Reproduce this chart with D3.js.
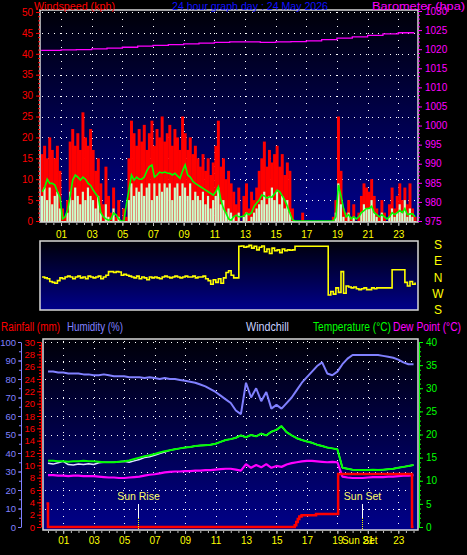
<!DOCTYPE html>
<html><head><meta charset="utf-8">
<script src="https://cdn.jsdelivr.net/npm/d3@7/dist/d3.min.js"></script>
<style>
body{margin:0;background:#000;}
svg{display:block;}
text{font-family:"Liberation Sans",Arial,sans-serif;}
</style>
</head><body>
<svg id="c" width="467" height="555"></svg>
<script>
// ---------- DATA ----------
// Top chart: 10-minute samples starting 23:40 of the previous day
const topStart = -1/3, topStep = 1/6;
const gust = [16,18,
 15,20,17,15,18,12,
 3,1,5,19,22,18,
 21,17,26,20,18,22,
 17,12,15,9,4,13,
 6,2,8,1,5,0,
 3,1,15,24,21,18,
 22,19,23,17,21,24,
 18,22,20,25,19,21,
 23,18,22,20,17,25,
 21,17,20,16,18,15,
 13,16,12,15,11,14,
 18,24,13,15,10,12,
 9,7,4,8,0,6,
 9,3,7,5,8,12,
 15,19,13,17,14,16,
 18,13,16,11,14,12,
 3,0,0,0,2,0,
 0,0,0,0,0,0,
 0,0,0,0,1,5,
 25,12,3,2,5,1,
 4,0,2,6,9,8,
 7,10,6,3,1,5,
 2,0,4,8,3,6,
 9,5,8,4,9,3,
 1];
const wind = [6,8,
 5,8,4,6,7,3,
 0,0,2,7,5,8,
 6,4,7,5,8,6,
 5,3,6,2,0,4,
 1,0,3,0,1,0,
 0,0,5,9,6,8,
 7,9,6,8,9,5,
 9,6,9,7,9,8,
 9,5,8,9,6,9,
 8,6,9,5,7,6,
 5,7,4,6,3,5,
 6,8,4,5,2,3,
 2,1,0,2,0,1,
 2,0,1,2,3,4,
 5,7,4,6,8,5,
 7,4,6,3,5,2,
 0,0,0,0,0,0,
 0,0,0,0,0,0,
 0,0,0,0,0,2,
 9,4,1,0,2,0,
 1,0,0,2,4,3,
 3,5,2,1,0,2,
 0,0,1,3,1,2,
 4,2,5,1,3,1,
 0];
const avgWind = [7,8,
 10,9,9,8.6,7,5.7,
 0.5,1,2.6,6,9.8,11,
 10.5,9.8,10.5,10,9,8.5,
 7.4,6.5,5.7,2,1,0.5,
 0.2,0.5,1.9,1.5,0.5,0,
 0,4,7.4,11,9.8,10.5,
 10,10,10.5,12,13,13.4,
 10.5,11,11.7,11.5,11.7,11.5,
 11.4,11,11.4,10.8,10.2,12,
 13.4,11,10.5,9.5,9,8.6,
 8.2,7.8,7.4,7,6.6,6.2,
 7,8.2,5,3,1.9,0.5,
 0.2,1,1.4,1,1,1.2,
 1.9,1.5,2,3.5,4.3,5,
 6.2,6,5.5,5.8,5.7,6.5,
 7.4,7,6,5,3.5,1.9,
 0.3,0,0,0,0,0,
 0,0,0,0,0,0,
 0,0,0,0,0,1,
 8.6,6,3,1,1.5,0.5,
 1,0.5,1,2,2.5,3,
 3,3.5,2,1.5,1,1.5,
 1,0.5,1,2,1.5,2,
 2.5,2,3,1.5,1.7,1.7,
 1];
// wind direction in degrees (0 = N, +90 = E, -90 = W, +/-180 = S)
const windDir = [0,-5,
 -10,-25,-30,-35,-20,-5,
 -10,0,5,0,-10,0,
 5,-5,0,-10,5,0,
 -5,0,5,-10,0,10,
 30,30,25,30,28,10,
 15,10,5,0,-5,5,
 -10,0,-5,-15,0,-5,
 0,-5,-10,0,5,0,
 -5,0,5,0,-5,0,
 5,0,0,5,-5,0,
 0,5,-10,-20,-40,-15,
 -30,-10,-35,-5,25,35,
 10,-5,-5,170,172,165,
 168,175,160,170,150,165,
 172,140,155,130,160,145,
 150,135,155,145,150,148,
 150,170,170,170,170,170,
 170,170,170,170,170,170,
 170,170,-100,-80,-95,-60,
 -85,30,-90,-50,-55,-60,
 -55,-65,-70,-65,-60,-70,
 -70,-60,-65,-60,-60,-60,
 -60,-60,-60,40,40,40,
 40,40,-30,-50,-25,-40,
 -30];
// Barometer, hourly 00..24
const baroHours = [-0.3,0,1,2,3,4,5,6,7,8,9,10,11,12,13,14,15,16,17,18,19,20,21,22,23,24];
const baro = [1019.7,1019.7,1019.8,1019.9,1020.1,1020.3,1020.5,1020.8,1021.0,1021.2,1021.4,1021.6,1021.8,1021.9,1021.9,1021.8,1021.9,1022.0,1022.2,1022.5,1022.9,1023.2,1023.6,1024.0,1024.3,1024.5];

// Bottom chart: 20-minute samples from 00:00
const botStep = 1/3;
const humidity = [84,84,83.5, 83.5,83,83, 83,82.5,82.5, 82,82,82.5, 82,81.5,81.5, 81.5,81,81,
 81,80.5,81, 80.5,80,80.5, 80,80,79.5, 79,78.5,78, 77,76,74.5, 73,71,69,
 67,63,61, 78,70,75, 68,73,64, 66,64,67, 70,74,78, 81,84,87,
 89,83,82, 84,88,91, 93,93,93, 93,93,93, 92.5,92,91.5, 90.5,89,88, 88];
const temperature = [14.3,14.3,14.2, 14.2,14.1,14.2, 14.2,14.3,14.2, 14.2,14.1,14.0, 14.0,14.0,14.1, 14.2,14.4,14.7,
 15.0,15.3,15.5, 15.8,16.1,16.4, 16.6,16.8,17.0, 17.2,17.3,17.5, 17.6,17.7,17.8, 18.0,18.4,18.8,
 19.0,19.3,19.8, 19.4,19.9,19.6, 20.2,19.8,20.6, 21.0,21.8,20.5, 19.8,19.2,18.8, 18.5,18.2,17.8,
 17.5,17.2,17.0, 16.8,12.8,12.6, 12.4,12.3,12.3, 12.3,12.4,12.3, 12.4,12.5,12.6, 12.8,13.0,13.2, 13.4];
const windchill = [13.8,13.6,13.9, 14.2,13.5,13.4, 13.6,13.5,13.7, 13.5,13.9,14.0, 14.0,14.0,14.1, 14.2,14.0,14.3,
 14.6,15.0,15.2, 15.5,15.9,16.2, 16.6,16.8,17.0, 17.2,17.3,17.5, 17.6,17.7,17.8, 18.0,18.4,18.8,
 19.0,19.3,19.8, 19.4,19.9,19.6, 20.2,19.8,20.6, 21.0,21.8,20.5, 19.8,19.2,18.8, 18.5,18.2,17.8,
 17.5,17.2,17.0, 16.8,12.8,12.6, 12.4,12.3,12.3, 12.3,12.4,12.3, 12.4,12.5,12.6, 12.8,13.0,13.2, 13.4];
const dewPoint = [11.2,11.2,11.1, 11.1,11.0,11.1, 11.1,11.0,11.0, 11.0,10.9,10.8, 10.7,10.7,10.6, 10.6,10.7,10.8,
 10.9,11.1,11.3, 11.4,11.6,11.8, 11.9,12.0,12.0, 12.1,12.1,12.2, 12.2,12.3,12.3, 12.4,12.5,12.6,
 12.6,12.4,12.2, 13.6,12.8,13.4, 12.9,13.6,12.8, 13.2,13.0,13.5, 13.8,14.0,14.2, 14.3,14.3,14.2,
 14.1,14.0,14.1, 14.0,10.9,10.7, 10.6,10.6,10.6, 10.7,10.8,10.8, 10.8,10.9,10.9, 11.0,11.1,11.1, 11.2];
const rainHours = [-0.1,0.0,16.2,16.3,16.4,16.5,16.65,17.6,19.05,23.9,24.0];
const rainfall  = [3.8,0,0.3,0.8,1.3,1.7,1.9,2.1,8.6,0,0];

const hourTicks = [1,3,5,7,9,11,13,15,17,19,21,23];
const hourLabels = ["01","03","05","07","09","11","13","15","17","19","21","23"];
const windTicks = [0,5,10,15,20,25,30,35,40,45,50];
const baroTicks = [975,980,985,990,995,1000,1005,1010,1015,1020,1025,1030];
const humTicks = [0,10,20,30,40,50,60,70,80,90,100];
const rainTicks = [0,2,4,6,8,10,12,14,16,18,20,22,24,26,28,30];
const tempTicks = [0,5,10,15,20,25,30,35,40];
const dirValues = [180,90,0,-90,-180];
const dirLabels = ["S","E","N","W","S"];
const sunEvents = [{h:5.9,label:"Sun Rise"},{h:20.6,label:"Sun Set"}];

// ---------- DRAW ----------
const svg = d3.select("#c");
const defs = svg.append("defs");
const grad = defs.append("linearGradient").attr("id","bg").attr("x1",0).attr("y1",0).attr("x2",0).attr("y2",1);
grad.append("stop").attr("offset","0%").attr("stop-color","#000008");
grad.append("stop").attr("offset","100%").attr("stop-color","#00008a");

const xT = d3.scaleLinear().domain([0,24]).range([45.7,45.7+24*15.33]);
const yW = d3.scaleLinear().domain([0,50]).range([221,12]);
const yB = d3.scaleLinear().domain([975,1030]).range([221,11]);
const yD = d3.scaleLinear().domain([-180,180]).range([309.5,244.5]);
const xB = d3.scaleLinear().domain([0,24]).range([48,48+24*15.23]);
const yH = d3.scaleLinear().domain([0,100]).range([527,342]);
const yR = d3.scaleLinear().domain([0,30]).range([527,342]);
const yC = d3.scaleLinear().domain([0,40]).range([527,342]);
const intFmt = d3.format("d");

const frames = [
 {id:"f1",x:40,y:10,w:378,h:212},
 {id:"f2",x:40,y:241,w:378,h:69},
 {id:"f3",x:43,y:339,w:375,h:191}
];
frames.forEach(f=>{
  defs.append("clipPath").attr("id","clip"+f.id).append("rect").attr("x",f.x).attr("y",f.y).attr("width",f.w).attr("height",f.h);
  svg.append("rect").attr("x",f.x).attr("y",f.y).attr("width",f.w).attr("height",f.h).attr("fill","url(#bg)");
});

// Grids
function grid(sel, xs, x0, x1, ys, y0, y1){
  sel.selectAll(null).data(xs).join("line").attr("x1",d=>d).attr("x2",d=>d).attr("y1",y0).attr("y2",y1)
    .attr("stroke","#fff").attr("stroke-dasharray","1,6").attr("shape-rendering","crispEdges");
  sel.selectAll(null).data(ys).join("line").attr("y1",d=>d).attr("y2",d=>d).attr("x1",x0).attr("x2",x1)
    .attr("stroke","#fff").attr("stroke-dasharray","1,5").attr("shape-rendering","crispEdges");
}
grid(svg.append("g"), hourTicks.map(h=>Math.round(xT(h))+0.5), 42, 417, windTicks.slice(1).map(v=>Math.round(yW(v))+0.5), 12, 221);
grid(svg.append("g"), hourTicks.map(h=>Math.round(xB(h))+0.5), 45, 417, humTicks.slice(1).map(v=>Math.round(yH(v))+0.5), 341, 529);

// Top chart data
const topT = gust.map((d,i)=>topStart+i*topStep);
const bw = xT(topStep)-xT(0)+0.4;
const topG = svg.append("g").attr("clip-path","url(#clipf1)");
topG.selectAll(".gust").data(gust).join("rect")
  .attr("x",(d,i)=>xT(topT[i])).attr("width",bw)
  .attr("y",d=>yW(d)).attr("height",d=>yW(0)-yW(d)+1).attr("fill","#ff0000");
topG.selectAll(".wind").data(wind).join("rect")
  .attr("x",(d,i)=>xT(topT[i])+0.3).attr("width",bw-0.8)
  .attr("y",d=>yW(d)).attr("height",d=>yW(0)-yW(d)+1).attr("fill","#ccffcc");
topG.append("path").datum(avgWind)
  .attr("d",d3.line().x((d,i)=>xT(topT[i])+bw/2).y(d=>yW(d)))
  .attr("fill","none").attr("stroke","#00ff00").attr("stroke-width",1.6);
topG.append("path").datum(baro)
  .attr("d",d3.line().x((d,i)=>xT(baroHours[i])).y(d=>yB(d)).curve(d3.curveStepAfter))
  .attr("fill","none").attr("stroke","#ff00ff").attr("stroke-width",1.3);

// Wind direction
const dirG = svg.append("g").attr("clip-path","url(#clipf2)");
dirG.append("path").datum(windDir)
  .attr("d",d3.line().x((d,i)=>xT(topT[i])+bw/2).y(d=>yD(d)).curve(d3.curveStepAfter))
  .attr("fill","none").attr("stroke","#ffff00").attr("stroke-width",1.6);
svg.selectAll(".dirl").data(dirLabels).join("text")
  .attr("x",438).attr("y",(d,i)=>yD(dirValues[i])+4.5).attr("text-anchor","middle")
  .attr("font-size",12).attr("fill","#ffff00").text(d=>d);

// Bottom chart data
const botT = humidity.map((d,i)=>i*botStep);
const botG = svg.append("g").attr("clip-path","url(#clipf3)");
function botLine(arr, ys, color, w){
  botG.append("path").datum(arr)
    .attr("d",d3.line().x((d,i)=>xB(botT[i])).y(d=>ys(d)))
    .attr("fill","none").attr("stroke",color).attr("stroke-width",w).attr("stroke-linejoin","bevel");
}
botLine(humidity, yH, "#8080ff", 2);
botLine(windchill, yC, "#dde4ff", 1.5);
botLine(temperature, yC, "#00ff00", 2);
botLine(dewPoint, yC, "#ff00ff", 2.2);
botG.append("path").datum(rainfall)
  .attr("d",d3.line().x((d,i)=>xB(rainHours[i])).y(d=>yR(d)).curve(d3.curveStepAfter))
  .attr("fill","none").attr("stroke","#ff0000").attr("stroke-width",2.5);

// Sun rise / set markers
sunEvents.forEach(s=>{
  const x = Math.round(xB(s.h))+0.5;
  svg.append("text").attr("x",x).attr("y",500).attr("text-anchor","middle").attr("font-size",10.5)
    .attr("fill","#ffff66").text(s.label);
  svg.append("line").attr("x1",x).attr("x2",x).attr("y1",504).attr("y2",518).attr("stroke","#fff");
  svg.append("line").attr("x1",x).attr("x2",x).attr("y1",518).attr("y2",530).attr("stroke","#ffff00").attr("stroke-dasharray","1,1");
});

// Frame borders
frames.forEach(f=>{
  svg.append("rect").attr("x",f.x).attr("y",f.y).attr("width",f.w).attr("height",f.h)
    .attr("fill","none").attr("stroke","#d8d8d8").attr("stroke-width",1.5);
});

// Axes helper
function styleAxis(sel, color, textColor, fs){
  sel.select(".domain").attr("stroke",color);
  sel.selectAll(".tick line").attr("stroke",color);
  sel.selectAll(".tick text").attr("fill",textColor||color).attr("font-size",fs||10)
     .attr("font-family","Liberation Sans, Arial, sans-serif");
}
function minor(axisFn, scale, step, x, y, color, size){
  const [a,b] = scale.domain();
  const vals = d3.range(Math.min(a,b), Math.max(a,b)+1e-9, step);
  const ax = svg.append("g").attr("transform",`translate(${x},${y})`)
    .call(axisFn(scale).tickValues(vals).tickSize(size).tickFormat(""));
  ax.select(".domain").remove();
  ax.selectAll(".tick line").attr("stroke",color);
}

// Top left: windspeed
minor(d3.axisLeft, yW, 1, 40, 0, "#ff0000", 2);
const aW = svg.append("g").attr("transform","translate(40,0)")
  .call(d3.axisLeft(yW).tickValues(windTicks).tickFormat(intFmt).tickSize(4).tickPadding(3));
aW.select(".domain").remove(); styleAxis(aW, "#ff0000");
// Top right: barometer
minor(d3.axisRight, yB, 1, 418, 0, "#ff00ff", 2);
const aB = svg.append("g").attr("transform","translate(418,0)")
  .call(d3.axisRight(yB).tickValues(baroTicks).tickFormat(intFmt).tickSize(4).tickPadding(3));
aB.select(".domain").remove(); styleAxis(aB, "#ff00ff");

// Hour axes
const hourFmt = d => hourLabels[hourTicks.indexOf(d)];
minor(d3.axisBottom, d3.scaleLinear().domain([0,24]).range(xT.range()), 0.5, 0, 223, "#c0c0c0", 2);
const aHT = svg.append("g").attr("transform","translate(0,223)")
  .call(d3.axisBottom(xT).tickValues(hourTicks).tickFormat(hourFmt).tickSize(3).tickPadding(5));
aHT.select(".domain").remove(); styleAxis(aHT, "#c0c0c0", "#ffff00");

minor(d3.axisBottom, d3.scaleLinear().domain([0,24]).range(xB.range()), 0.5, 0, 531, "#c0c0c0", 2);
const aHB = svg.append("g").attr("transform","translate(0,531)")
  .call(d3.axisBottom(xB).tickValues(hourTicks).tickFormat(hourFmt).tickSize(3).tickPadding(3));
aHB.select(".domain").remove(); styleAxis(aHB, "#c0c0c0", "#ffff00");
svg.append("text").attr("x",xB(sunEvents[1].h)-2).attr("y",544).attr("text-anchor","middle")
  .attr("font-size",10).attr("fill","#ffff00").text(sunEvents[1].label);

// Bottom left: humidity
minor(d3.axisLeft, yH, 5, 21, 0, "#8080ff", 2);
const aH = svg.append("g").attr("transform","translate(21,0)")
  .call(d3.axisLeft(yH).tickValues(humTicks).tickFormat(intFmt).tickSize(3).tickPadding(2).tickSizeOuter(0));
styleAxis(aH, "#8080ff", "#8080ff", 9.5);
// Bottom left: rainfall
minor(d3.axisLeft, yR, 0.5, 41, 0, "#ff0000", 2);
const aR = svg.append("g").attr("transform","translate(41,0)")
  .call(d3.axisLeft(yR).tickValues(rainTicks).tickFormat(intFmt).tickSize(4).tickPadding(2).tickSizeOuter(0));
styleAxis(aR, "#ff0000", "#ff0000", 9.5);
// Bottom right: temperature
minor(d3.axisRight, yC, 1, 419, 0, "#00ff00", 2);
const aC = svg.append("g").attr("transform","translate(419,0)")
  .call(d3.axisRight(yC).tickValues(tempTicks).tickFormat(intFmt).tickSize(4).tickPadding(3).tickSizeOuter(0));
styleAxis(aC, "#00ff00");

// Titles
const titles = [
 {t:"Windspeed (kph)", x:34, y:9.5, w:81, c:"#ff0000", fs:11},
 {t:"24 hour graph day : 24 May 2026", x:172, y:9.5, w:156, c:"#1010ff", fs:11},
 {t:"Barometer (hpa)", x:372, y:9.5, w:93, c:"#ff00ff", fs:11},
 {t:"Rainfall (mm)", x:1, y:331, w:59, c:"#ff0000", fs:12},
 {t:"Humidity (%)", x:67, y:331, w:56, c:"#8080ff", fs:12},
 {t:"Windchill", x:246, y:331, w:43, c:"#c8d0ff", fs:12},
 {t:"Temperature (°C)", x:313, y:331, w:78, c:"#00ff00", fs:12},
 {t:"Dew Point (°C)", x:393, y:331, w:68, c:"#ff00ff", fs:12}
];
svg.selectAll(".title").data(titles).join("text")
  .attr("x",d=>d.x).attr("y",d=>d.y).attr("font-size",d=>d.fs).attr("fill",d=>d.c)
  .attr("textLength",d=>d.w).attr("lengthAdjust","spacingAndGlyphs").text(d=>d.t);
</script>
</body></html>
